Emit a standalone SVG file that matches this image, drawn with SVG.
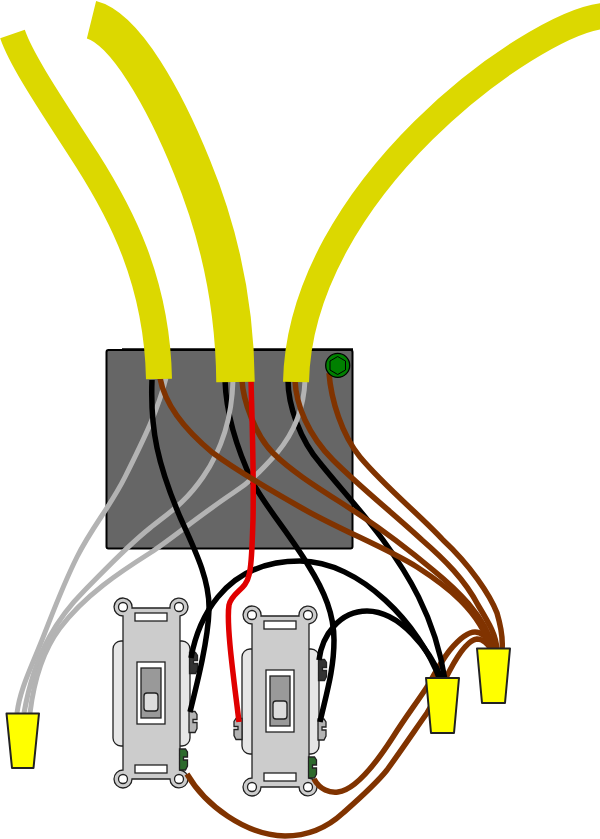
<svg xmlns="http://www.w3.org/2000/svg" width="600" height="839" viewBox="0 0 600 839">
<style>
.w{fill:none;stroke-width:5.5}
.k{stroke:#000}.g{stroke:#b3b3b3;stroke-width:5}.b{stroke:#803300}.r{stroke:#e00000}
.c{fill:none;stroke:#dcd800}
.nut{fill:#ff0;stroke:#222;stroke-width:2;stroke-linejoin:round}
.o{stroke:#222;stroke-width:1.3}
</style>
<defs>
<g id="sw">
<rect class="o" x="113" y="641" width="77" height="105" rx="8" fill="#e6e6e6"/>
<path class="o" fill="#ccc" d="M123 616A9 9 0 1 1 132 608H170A9 9 0 1 1 180 616V770A9 9 0 1 1 170 779H132A9 9 0 1 1 123 770Z"/>
<circle class="o" cx="123" cy="607" r="4.500" fill="#fff"/><circle class="o" cx="179" cy="607" r="4.500" fill="#fff"/>
<circle class="o" cx="123" cy="779" r="4.500" fill="#fff"/><circle class="o" cx="179" cy="779" r="4.500" fill="#fff"/>
<rect class="o" x="135" y="613" width="32" height="8" fill="#fff"/><rect class="o" x="135" y="765" width="32" height="8" fill="#fff"/>
<rect class="o" x="137" y="662" width="28" height="62" fill="#fff"/>
<rect class="o" x="141" y="668" width="20" height="50" fill="#999"/>
<rect class="o" x="144" y="693" width="14" height="18" rx="3" fill="#ddd"/>
</g>
<path id="sc" class="o" d="M0 0H6L8 3V8H4V11H8V17L6 21H0Z"/>
</defs>
<g id="box"><rect x="106.500" y="350" width="246" height="198.500" rx="2" fill="#666" stroke="#000" stroke-width="2"/><path d="M122 349.500H353" stroke="#000" stroke-width="2.500"/></g>
<g id="switch1"><use href="#sw"/>
<use href="#sc" x="189.500" y="652.500" fill="#333"/><use href="#sc" x="189" y="711.500" fill="#b3b3b3"/><use href="#sc" x="179.500" y="749" fill="#2d6a2d"/></g>
<g id="switch2"><use href="#sw" x="129" y="8"/>
<use href="#sc" x="318.500" y="659.500" fill="#333"/><use href="#sc" x="318" y="719" fill="#b3b3b3"/><use href="#sc" x="308.500" y="757" fill="#2d6a2d"/>
<use href="#sc" transform="translate(242 718.500) scale(-1 1)" fill="#b3b3b3"/></g>
<g id="connectors">
<path class="w b" d="M187 774C205 805 245 835 285 836C310 836 330 825 343 813C360 798 375 785 387 770C405 745 415 730 427 713C435 700 442 685 450 670C458 655 468 640 477 639C483 639 488 644 490 648"/>
<path class="w b" d="M314 779C320 790 330 793 338 792C355 790 375 765 393 737C405 718 415 705 427 687C435 673 442 660 450 650C460 638 468 632 475 632C482 632 487 638 490 645"/>
<path class="w k" d="M225 380C226 410 235 445 253 483C268 510 290 535 308 565C325 592 334 615 334 640C334 670 326 695 320 722"/>
<path class="w k" d="M288 380C288 405 300 440 320 463C335 482 365 515 383 540C405 570 435 615 445 680"/>
<path class="w k" d="M191 658C197 625 220 561 300 561C360 561 420 625 440 680"/>
<path class="w k" d="M319 660C322 635 340 611 367 611C400 611 430 650 442 680"/>
<path class="w g" d="M166 378C158 410 145 437 125 477C110 507 92 527 77 557C62 587 52 615 40 645C30 670 20 690 17 713"/>
<path class="w g" d="M233 380C232 420 221 451 203 477C185 503 170 512 150 528C125 548 105 570 85 590C60 615 35 650 24 713"/>
<path class="w g" d="M305 380C304 410 292 435 277 453C260 472 250 482 233 493C200 515 170 540 150 553C120 572 85 595 60 628C42 652 34 680 30 713"/>
<path class="w k" d="M152 380C150 430 158 465 180 517C195 550 210 580 209 610C208 640 198 680 190 712"/>
<path class="w b" d="M242 380C243 400 255 435 273 453C295 475 330 495 360 515C390 535 415 555 433 570C455 588 485 615 494 650"/>
<path class="w r" d="M251 380C252 420 254 470 253 520C252 545 252 565 249 575C246 590 232 592 229 605C226 625 234 680 239 722"/>
<path class="w b" d="M160 378C165 405 185 430 213 453C240 473 270 490 300 507C340 530 385 547 417 567C445 585 480 610 491 650"/>
<path class="w b" d="M295 380C296 405 308 435 333 460C360 487 395 515 422 540C445 560 465 580 478 605C490 625 496 635 497 650"/>
<path class="w b" d="M329 373C331 400 342 435 360 457C385 487 420 515 443 540C470 565 490 595 497 613C502 630 503 640 502 650"/>
</g>
<g id="conduits">
<path class="c" stroke-width="26" d="M12.500 34C22 62 55 110 87 160C120 212 157 280 159 379"/>
<path class="c" stroke-width="38.500" d="M91.500 19.700C125 28 165 100 192 167C220 235 235 310 235.500 382"/>
<path class="c" stroke-width="26" d="M602 16C530 25 300 190 296 382"/>
</g>
<g id="ground"><circle cx="337.700" cy="365.400" r="12" fill="#008000" stroke="#000" stroke-width="1.300"/><path d="M337.700 356.500L345.500 361V370L337.700 374.500L330 370V361Z" fill="#008000" stroke="#000"/></g>
<g id="nut1"><path class="nut" d="M6.500 713.500H39L33.500 768H12Z"/></g>
<g id="nut2"><path class="nut" d="M426 678H459L454 733H431Z"/></g>
<g id="nut3"><path class="nut" d="M477 648.500H510L505 703H482Z"/></g>
</svg>
